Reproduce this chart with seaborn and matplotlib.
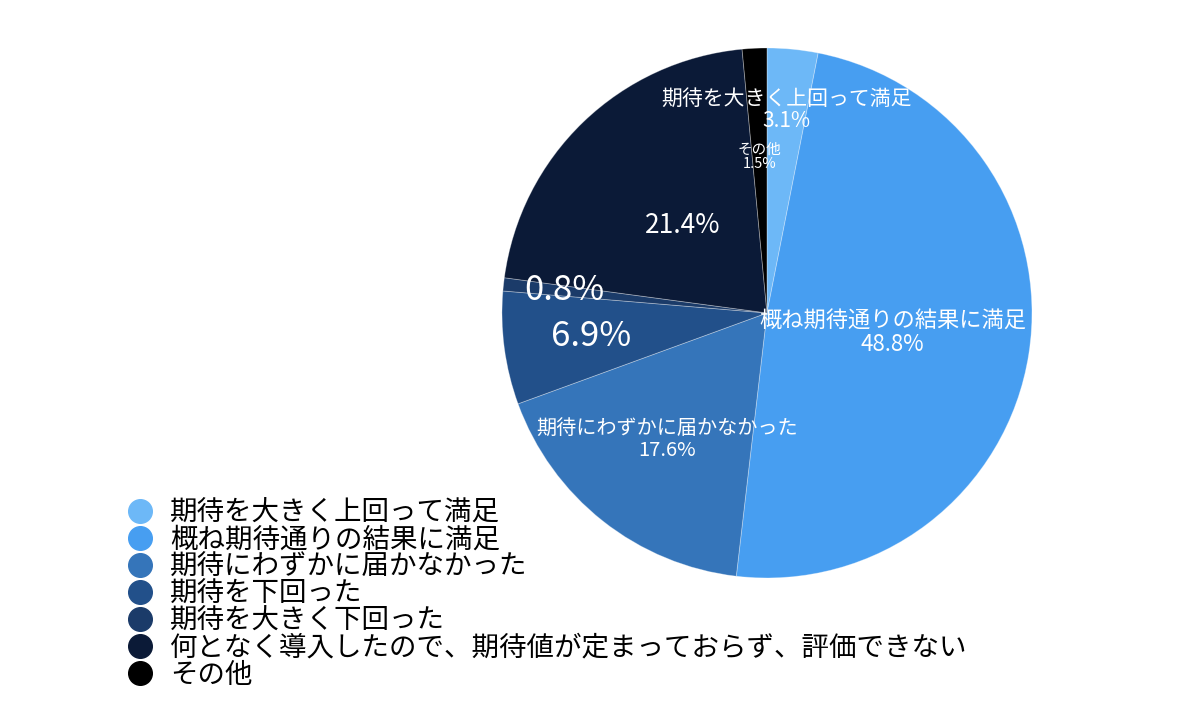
import matplotlib
matplotlib.use("Agg")
import matplotlib.pyplot as plt
import seaborn as sns
import numpy as np
from matplotlib.lines import Line2D

categories = [
    "期待を大きく上回って満足",
    "概ね期待通りの結果に満足",
    "期待にわずかに届かなかった",
    "期待を下回った",
    "期待を大きく下回った",
    "何となく導入したので、期待値が定まっておらず、評価できない",
    "その他",
]
values = [3.1, 48.8, 17.6, 6.9, 0.8, 21.4, 1.5]
colors = ["#6DB8F7", "#479EF1", "#3575BA", "#22508A", "#1B3B69", "#0B1A37", "#000000"]
show_name = [True, True, True, False, False, False, True]
label_sizes = [15, 16, 14.5, 25, 25, 19, 10.5]
label_dist = [0.77, 0.48, 0.61, 0.67, 0.77, 0.46, 0.59]

sns.set_theme(style="white")
plt.rcParams['font.family'] = ['Noto Sans CJK JP', 'DejaVu Sans']

fig = plt.figure(figsize=(12, 7.14), dpi=100)
ax = fig.add_axes([0.4183, 0.1905, 0.4417, 0.7423])
wedges, _ = ax.pie(values, colors=colors, startangle=90, counterclock=False,
                   radius=1.0,
                   wedgeprops=dict(edgecolor=(1, 1, 1, 0.35), linewidth=0.6))
ax.set_xlim(-1, 1)
ax.set_ylim(-1, 1)
ax.axis('off')

for w, cat, v, show, fs, d in zip(wedges, categories, values, show_name, label_sizes, label_dist):
    mid = np.deg2rad((w.theta1 + w.theta2) / 2)
    x, y = d * np.cos(mid), d * np.sin(mid)
    txt = f"{cat}\n{v:.1f}%" if show else f"{v:.1f}%"
    ax.text(x, y, txt, ha='center', va='center', color='white', fontsize=fs,
            linespacing=1.0)

handles = [Line2D([0], [0], marker='o', linestyle='none', markersize=17,
                  markerfacecolor=c, markeredgecolor=c) for c in colors]
leg = fig.legend(handles, categories, loc='upper left', bbox_to_anchor=(0.105, 0.30),
                 frameon=False, fontsize=19.8, labelspacing=0.0, handletextpad=0.6,
                 handlelength=1.0, borderpad=0, borderaxespad=0)
for t in leg.get_texts():
    t.set_color('black')

fig.savefig("out.png", dpi=100, facecolor='white')
